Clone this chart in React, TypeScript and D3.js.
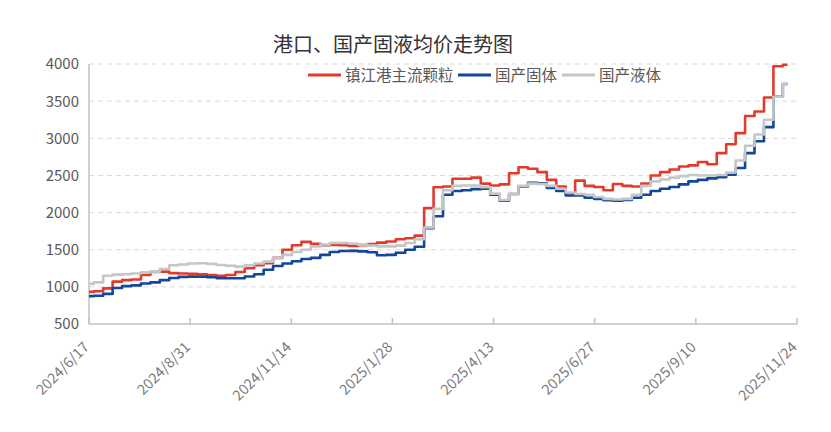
import React, { useEffect, useRef } from 'react';
import * as d3 from 'd3';

const chartTitle = '港口、国产固液均价走势图';
const seriesNames = ['镇江港主流颗粒', '国产固体', '国产液体'];
const seriesColors = ['#e23b2e', '#13479b', '#c6c6c6'];
const xTickLabels = [
  '2024/6/17', '2024/8/31', '2024/11/14', '2025/1/28',
  '2025/4/13', '2025/6/27', '2025/9/10', '2025/11/24',
];
const yTicks = [500, 1000, 1500, 2000, 2500, 3000, 3500, 4000];

// weekly readings starting 2024/6/17
const firstDate = '2024/6/17';
const stepDays = 7;

const zhenjiang = [
  932, 940, 980, 1070, 1090, 1100, 1160, 1200, 1205, 1185,
  1180, 1175, 1170, 1160, 1150, 1160, 1200, 1250, 1290, 1320,
  1390, 1500, 1560, 1605, 1580, 1560, 1565, 1560, 1550, 1560,
  1575, 1595, 1610, 1640, 1655, 1690, 2060, 2340, 2350, 2455,
  2455, 2470, 2390, 2365, 2380, 2530, 2610, 2590, 2545, 2440,
  2350, 2260, 2430, 2360, 2345, 2300, 2385, 2360, 2350, 2390,
  2500, 2545, 2580, 2620, 2635, 2680, 2650, 2800, 2920, 3070,
  3300, 3360, 3550, 3970, 3990,
];

const solid = [
  875, 880, 905, 985, 1010, 1020, 1045, 1060, 1090, 1120,
  1135, 1138, 1138, 1130, 1118, 1115, 1115, 1140, 1170, 1230,
  1280, 1315, 1345, 1375, 1390, 1430, 1470, 1482, 1485, 1478,
  1465, 1425, 1430, 1460, 1500, 1540, 1790, 1950, 2240, 2290,
  2300, 2315, 2320, 2240, 2160, 2250, 2350, 2400, 2395, 2330,
  2290, 2230, 2230, 2200, 2185, 2165, 2160, 2170, 2200, 2240,
  2290, 2320, 2345, 2380, 2420, 2440, 2460, 2475, 2510, 2600,
  2800, 2960, 3150, 3560, 3730,
];

const liquid = [
  1040, 1060, 1150, 1165, 1170, 1180, 1195, 1205, 1240, 1290,
  1300, 1315, 1318, 1310, 1295, 1285, 1272, 1290, 1315, 1340,
  1390, 1430, 1470, 1500, 1545, 1570, 1590, 1590, 1580, 1568,
  1555, 1545, 1545, 1555, 1590, 1640, 1800, 2050, 2300, 2360,
  2365, 2365, 2340, 2255, 2170, 2250, 2360, 2390, 2385, 2360,
  2320, 2270, 2250, 2240, 2210, 2185, 2175, 2185, 2240, 2360,
  2420, 2445, 2470, 2490, 2505, 2500, 2500, 2505, 2540, 2700,
  2900, 3050, 3250, 3560, 3730,
];

const W = 831;
const H = 432;
const margin = { left: 89, right: 34, top: 64, bottom: 108 };
const font = "'Noto Sans CJK SC', 'Noto Sans', sans-serif";

const drawChart = (el: SVGSVGElement) => {
  const svg = d3.select(el);
  svg.selectAll('*').remove();

  const parse = d3.timeParse('%Y/%m/%d');
  const start = parse(firstDate) as Date;
  const tickDates = xTickLabels.map((s) => parse(s) as Date);

  const x = d3
    .scaleTime()
    .domain([start, tickDates[tickDates.length - 1]])
    .range([margin.left, W - margin.right]);
  const y = d3
    .scaleLinear()
    .domain([500, 4000])
    .range([H - margin.bottom, margin.top]);

  const x0 = margin.left;
  const x1 = W - margin.right;
  const yBase = H - margin.bottom;

  // title
  svg
    .append('text')
    .attr('x', 393)
    .attr('y', 52)
    .attr('text-anchor', 'middle')
    .attr('font-family', font)
    .attr('font-size', 20)
    .attr('fill', '#333')
    .text(chartTitle);

  // grid
  svg
    .append('g')
    .selectAll('line')
    .data(yTicks.slice(1))
    .join('line')
    .attr('x1', x0)
    .attr('x2', x1)
    .attr('y1', (d) => y(d))
    .attr('y2', (d) => y(d))
    .attr('stroke', '#dadada')
    .attr('stroke-dasharray', '5,4');

  // axes
  const axisColor = '#c2c2c2';
  svg
    .append('line')
    .attr('x1', x0)
    .attr('x2', x0)
    .attr('y1', y(4000))
    .attr('y2', yBase)
    .attr('stroke', axisColor)
    .attr('stroke-width', 1.5);
  svg
    .append('line')
    .attr('x1', x0)
    .attr('x2', x1)
    .attr('y1', yBase)
    .attr('y2', yBase)
    .attr('stroke', axisColor)
    .attr('stroke-width', 1.5);
  svg
    .append('g')
    .selectAll('line')
    .data(tickDates)
    .join('line')
    .attr('x1', (d) => x(d))
    .attr('x2', (d) => x(d))
    .attr('y1', yBase)
    .attr('y2', yBase - 6)
    .attr('stroke', axisColor)
    .attr('stroke-width', 1.5);

  svg
    .append('g')
    .selectAll('text')
    .data(yTicks)
    .join('text')
    .attr('x', 79)
    .attr('y', (d) => y(d))
    .attr('dy', '0.36em')
    .attr('text-anchor', 'end')
    .attr('font-family', font)
    .attr('font-size', 15)
    .attr('fill', '#595959')
    .text((d) => d);

  svg
    .append('g')
    .selectAll('text')
    .data(tickDates)
    .join('text')
    .attr('transform', (d) => `translate(${x(d) + 1},${yBase + 24}) rotate(-45)`)
    .attr('text-anchor', 'end')
    .attr('font-family', font)
    .attr('font-size', 14.5)
    .attr('fill', '#7a7a7a')
    .text((_, i) => xTickLabels[i]);

  // lines
  const series = [zhenjiang, solid, liquid];
  const line = d3
    .line<number>()
    .x((_, i) => x(d3.timeDay.offset(start, i * stepDays)))
    .y((d) => y(d))
    .curve(d3.curveStep);

  svg
    .append('g')
    .selectAll('path')
    .data(series)
    .join('path')
    .attr('d', (d) => line(d))
    .attr('fill', 'none')
    .attr('stroke', (_, i) => seriesColors[i])
    .attr('stroke-width', 2.6)
    .attr('stroke-linejoin', 'round');

  // legend
  const legendX = [308, 458, 562];
  const legend = svg
    .append('g')
    .selectAll('g')
    .data(seriesNames)
    .join('g')
    .attr('transform', (_, i) => `translate(${legendX[i]},75)`);
  legend
    .append('line')
    .attr('x1', 0)
    .attr('x2', 33)
    .attr('stroke', (_, i) => seriesColors[i])
    .attr('stroke-width', 3);
  legend
    .append('text')
    .attr('x', 37)
    .attr('dy', '0.36em')
    .attr('font-family', font)
    .attr('font-size', 15.5)
    .attr('fill', '#595959')
    .text((d) => d);
};

export default function App() {
  const ref = useRef<SVGSVGElement>(null);
  useEffect(() => {
    if (ref.current) drawChart(ref.current);
  }, []);
  return (
    <svg
      ref={ref}
      width={W}
      height={H}
      style={{ position: 'absolute', left: 0, top: 0, background: '#fff' }}
    />
  );
}
